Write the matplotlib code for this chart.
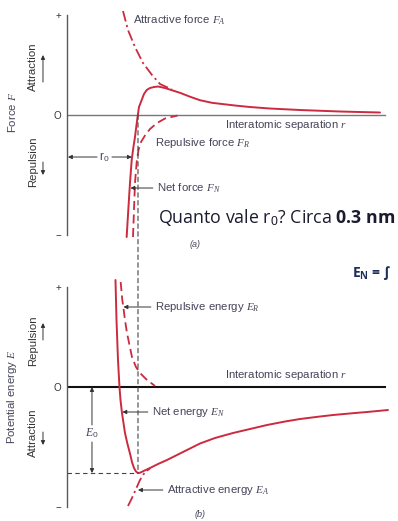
import matplotlib
matplotlib.use('Agg')
import matplotlib.pyplot as plt
from matplotlib.patches import ConnectionPatch

plt.rcParams['font.family'] = ['Liberation Sans Narrow', 'Liberation Sans', 'DejaVu Sans']
plt.rcParams['mathtext.fontset'] = 'custom'
plt.rcParams['mathtext.rm'] = 'Liberation Sans'
plt.rcParams['mathtext.it'] = 'Liberation Serif:italic'
plt.rcParams['mathtext.bf'] = 'Open Sans:bold'

# ---------------- data (r in nm, arbitrary force / energy units) ----------------
R0 = 0.30
E_MIN = -0.86

# (a) forces
net_force_r = [0.2521, 0.2590, 0.2662, 0.2734, 0.2801, 0.2873, 0.2937, 0.2988, 0.3042,
               0.3156, 0.3253, 0.3368, 0.3507, 0.3676, 0.3845, 0.4141, 0.4775, 0.5197,
               0.5620, 0.6127, 0.7099, 0.7732, 0.8577, 0.9845, 1.1535, 1.3225]
net_force_f = [-1.22, -0.95, -0.68, -0.45, -0.33, -0.22, -0.10, -0.01, 0.08,
               0.15, 0.21, 0.25, 0.27, 0.28, 0.285, 0.27, 0.222, 0.183,
               0.148, 0.122, 0.095, 0.08, 0.065, 0.05, 0.035, 0.025]

attr_force_r = [0.2366, 0.2577, 0.2873, 0.3211, 0.3592, 0.3930, 0.4437]
attr_force_f = [1.04, 0.85, 0.68, 0.52, 0.40, 0.31, 0.255]

rep_force_r = [0.2789, 0.2831, 0.2873, 0.2945, 0.3021, 0.3127, 0.3296, 0.3507, 0.3803,
               0.4141, 0.4677]
rep_force_f = [-1.22, -0.95, -0.68, -0.47, -0.35, -0.27, -0.205, -0.14, -0.08,
               -0.035, -0.005]

# (b) energies
net_energy_r = [0.2049, 0.2092, 0.2155, 0.2218, 0.2261, 0.2324, 0.2451, 0.2556, 0.2662,
                0.2746, 0.2831, 0.2915, 0.2979, 0.3042, 0.3127, 0.3253, 0.3507, 0.3845,
                0.4225, 0.4563, 0.4901, 0.5197, 0.5620, 0.6253, 0.7014, 0.7732, 0.8451,
                0.9211, 0.9845, 1.0690, 1.1239, 1.2169, 1.2676, 1.3563]
net_energy_e = [1.07, 0.67, 0.27, 0.0, -0.13, -0.26, -0.46, -0.57, -0.665,
                -0.75, -0.81, -0.845, -0.857, -0.86, -0.853, -0.838, -0.81, -0.77,
                -0.73, -0.69, -0.65, -0.615, -0.565, -0.51, -0.46, -0.42, -0.38,
                -0.345, -0.32, -0.295, -0.28, -0.26, -0.25, -0.23]

rep_energy_r = [0.2268, 0.2337, 0.2380, 0.2451, 0.2535, 0.2641, 0.2746, 0.2915, 0.3085,
                0.3338, 0.3718]
rep_energy_e = [1.05, 0.87, 0.80, 0.67, 0.54, 0.42, 0.30, 0.20, 0.14, 0.08, 0.01]

attr_energy_r = [0.2577, 0.2746, 0.2915, 0.3085, 0.3296, 0.3507]
attr_energy_e = [-1.19, -1.11, -1.02, -0.93, -0.85, -0.815]

tick_vals = [-1.2, 0, 1.0]
tick_labels = ['\u2212', 'O', '+']

# ---------------- styling ----------------
RED = '#cc2a3f'
TXT = '#45455a'
AX = '#5a5a5a'
FS = 8.2

fig = plt.figure(figsize=(3.98, 5.21), dpi=100)
ax1 = fig.add_axes([0.1683, 0.5393, 0.8088, 0.4415])
ax2 = fig.add_axes([0.1683, 0.0211, 0.8088, 0.4453])

for ax, ylim in ((ax1, (-1.25, 1.05)), (ax2, (-1.23, 1.09))):
    ax.set_xlim(0, 1.36)
    ax.set_ylim(*ylim)
    for s in ('top', 'right', 'bottom'):
        ax.spines[s].set_visible(False)
    ax.spines['left'].set_bounds(-1.2, 1.0)
    ax.spines['left'].set_color(AX)
    ax.spines['left'].set_linewidth(1.0)
    ax.set_xticks([])
    ax.set_yticks(tick_vals, tick_labels)
    ax.tick_params(axis='y', length=0, pad=4, labelsize=7, labelcolor='#333333')
    ax.patch.set_alpha(0)

arrow_kw = dict(arrowstyle='-|>', mutation_scale=6, lw=0.7, color='#333333',
                shrinkA=1, shrinkB=0)
dim_kw = dict(arrowstyle='-|>', mutation_scale=6, lw=0.7, color='#333333',
              shrinkA=0, shrinkB=0)

# ---------------- (a) force panel ----------------
ax1.plot([0, 1.345], [0, 0], color='#777777', lw=1.0)
ax1.plot(attr_force_r, attr_force_f, color=RED, lw=1.3, dashes=(6, 2, 1.2, 2))
ax1.plot(rep_force_r, rep_force_f, color=RED, lw=1.3, dashes=(5, 2.5))
ax1.plot(net_force_r, net_force_f, color=RED, lw=1.4, solid_capstyle='round',
         solid_joinstyle='round')

ax1.text(0.2789, 0.95, 'Attractive force $F_A$', fontsize=FS, color=TXT, va='center')
ax1.text(0.6676, -0.10, 'Interatomic separation $r$', fontsize=FS, color=TXT, va='center')
ax1.text(0.3718, -0.28, 'Repulsive force $F_R$', fontsize=FS, color=TXT, va='center')
ax1.annotate('Net force $F_N$', xy=(0.268, -0.73), xytext=(0.3803, -0.73),
             fontsize=FS, color=TXT, va='center', arrowprops=arrow_kw)
# r0 dimension
ax1.annotate('', xy=(0.004, -0.42), xytext=(0.127, -0.42), arrowprops=dim_kw)
ax1.annotate('', xy=(0.274, -0.42), xytext=(0.19, -0.42), arrowprops=dim_kw)
ax1.text(0.158, -0.42, 'r$_0$', fontsize=8.5, color=TXT, ha='center', va='center')
ax1.text(0.541, -1.29, '(a)', fontsize=6.5, color=TXT, ha='center', va='center',
         style='italic', clip_on=False)

# side labels
ax1.text(-0.2324, 0.03, 'Force $F$', rotation=90, fontsize=FS, color=TXT,
         ha='center', va='center', clip_on=False)
ax1.text(-0.1437, 0.48, 'Attraction', rotation=90, fontsize=FS, color='#333333',
         ha='center', va='center', clip_on=False)
ax1.annotate('', xy=(-0.1014, 0.60), xytext=(-0.1014, 0.33), arrowprops=dim_kw,
             annotation_clip=False)
ax1.text(-0.1437, -0.47, 'Repulsion', rotation=90, fontsize=FS, color='#333333',
         ha='center', va='center', clip_on=False)
ax1.annotate('', xy=(-0.1014, -0.60), xytext=(-0.1014, -0.47), arrowprops=dim_kw,
             annotation_clip=False)

ax1.text(0.3845, -1.02, r'Quanto vale r$_0$? Circa $\mathbf{0.3\ nm}$', fontsize=12.8,
         family=['Open Sans', 'DejaVu Sans'], color='#1b1b2f', va='center', clip_on=False)

# ---------------- (b) energy panel ----------------
ax2.plot([0, 1.345], [0, 0], color='#111111', lw=1.5)
ax2.plot(attr_energy_r, attr_energy_e, color=RED, lw=1.3, dashes=(6, 2, 1.2, 2))
ax2.plot(rep_energy_r, rep_energy_e, color=RED, lw=1.3, dashes=(5, 2.5))
ax2.plot(net_energy_r, net_energy_e, color=RED, lw=1.4, solid_capstyle='round',
         solid_joinstyle='round')

ax2.plot([0, R0], [E_MIN, E_MIN], color='#444444', lw=0.8, dashes=(4, 3))
con = ConnectionPatch(xyA=(R0, 0), coordsA=ax1.transData, xyB=(R0, E_MIN),
                      coordsB=ax2.transData, color='#444444', lw=0.8, linestyle=(0, (4, 3)))
fig.add_artist(con)

ax2.annotate('Repulsive energy $E_R$', xy=(0.2387, 0.80), xytext=(0.3718, 0.80),
             fontsize=FS, color=TXT, va='center', arrowprops=arrow_kw)
ax2.text(0.6676, 0.12, 'Interatomic separation $r$', fontsize=FS, color=TXT, va='center')
ax2.annotate('Net energy $E_N$', xy=(0.234, -0.25), xytext=(0.3592, -0.25),
             fontsize=FS, color=TXT, va='center', arrowprops=arrow_kw)
ax2.annotate('Attractive energy $E_A$', xy=(0.300, -1.03), xytext=(0.4225, -1.03),
             fontsize=FS, color=TXT, va='center', arrowprops=arrow_kw)
# E0 dimension
ax2.annotate('', xy=(0.1056, 0.0), xytext=(0.1056, -0.38), arrowprops=dim_kw)
ax2.annotate('', xy=(0.1056, E_MIN), xytext=(0.1056, -0.55), arrowprops=dim_kw)
ax2.text(0.1056, -0.465, '$E_0$', fontsize=8.5, color=TXT, ha='center', va='center')
ax2.text(0.562, -1.27, '(b)', fontsize=6.5, color=TXT, ha='center', va='center',
         style='italic', clip_on=False)

ax2.text(-0.2324, -0.10, 'Potential energy $E$', rotation=90, fontsize=FS, color=TXT,
         ha='center', va='center', clip_on=False)
ax2.text(-0.1437, 0.46, 'Repulsion', rotation=90, fontsize=FS, color='#333333',
         ha='center', va='center', clip_on=False)
ax2.annotate('', xy=(-0.1014, 0.64), xytext=(-0.1014, 0.47), arrowprops=dim_kw,
             annotation_clip=False)
ax2.text(-0.1437, -0.46, 'Attraction', rotation=90, fontsize=FS, color='#333333',
         ha='center', va='center', clip_on=False)
ax2.annotate('', xy=(-0.1014, -0.58), xytext=(-0.1014, -0.45), arrowprops=dim_kw,
             annotation_clip=False)

ax2.text(1.2042, 1.14, '$\\mathbf{E}_\\mathbf{N}$ = \u222b', fontsize=10, fontweight='bold',
         family=['Open Sans', 'DejaVu Sans'], color='#1f2d5c', va='center', clip_on=False)

fig.savefig('out.png', dpi=100)
